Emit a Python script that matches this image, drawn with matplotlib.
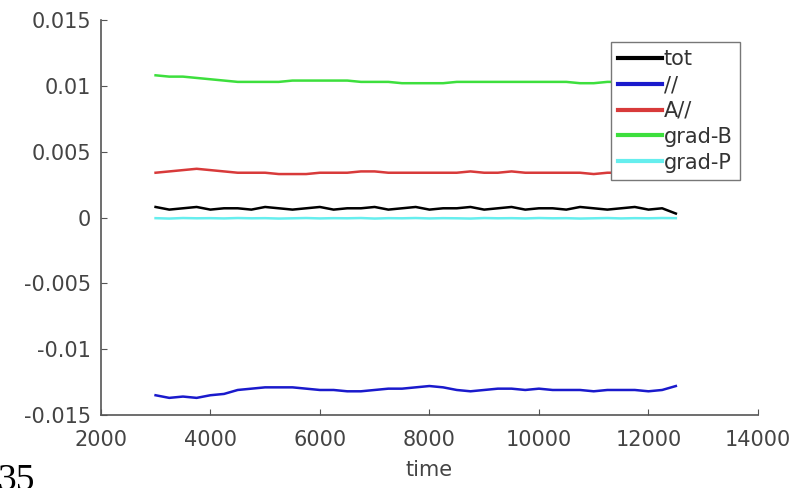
import numpy as np
import matplotlib.pyplot as plt

# time axis (samples every 250)
time = np.arange(3000, 12501, 250)

tot = [0.0008, 0.0006, 0.0007, 0.0008, 0.0006, 0.0007, 0.0007, 0.0006, 0.0008, 0.0007,
       0.0006, 0.0007, 0.0008, 0.0006, 0.0007, 0.0007, 0.0008, 0.0006, 0.0007, 0.0008,
       0.0006, 0.0007, 0.0007, 0.0008, 0.0006, 0.0007, 0.0008, 0.0006, 0.0007, 0.0007,
       0.0006, 0.0008, 0.0007, 0.0006, 0.0007, 0.0008, 0.0006, 0.0007, 0.0003]
par = [-0.0135, -0.0137, -0.0136, -0.0137, -0.0135, -0.0134, -0.0131, -0.0130, -0.0129, -0.0129,
       -0.0129, -0.0130, -0.0131, -0.0131, -0.0132, -0.0132, -0.0131, -0.0130, -0.0130, -0.0129,
       -0.0128, -0.0129, -0.0131, -0.0132, -0.0131, -0.0130, -0.0130, -0.0131, -0.0130, -0.0131,
       -0.0131, -0.0131, -0.0132, -0.0131, -0.0131, -0.0131, -0.0132, -0.0131, -0.0128]
a_par = [0.0034, 0.0035, 0.0036, 0.0037, 0.0036, 0.0035, 0.0034, 0.0034, 0.0034, 0.0033,
         0.0033, 0.0033, 0.0034, 0.0034, 0.0034, 0.0035, 0.0035, 0.0034, 0.0034, 0.0034,
         0.0034, 0.0034, 0.0034, 0.0035, 0.0034, 0.0034, 0.0035, 0.0034, 0.0034, 0.0034,
         0.0034, 0.0034, 0.0033, 0.0034, 0.0034, 0.0033, 0.0034, 0.0034, 0.0034]
grad_b = [0.0108, 0.0107, 0.0107, 0.0106, 0.0105, 0.0104, 0.0103, 0.0103, 0.0103, 0.0103,
          0.0104, 0.0104, 0.0104, 0.0104, 0.0104, 0.0103, 0.0103, 0.0103, 0.0102, 0.0102,
          0.0102, 0.0102, 0.0103, 0.0103, 0.0103, 0.0103, 0.0103, 0.0103, 0.0103, 0.0103,
          0.0103, 0.0102, 0.0102, 0.0103, 0.0103, 0.0103, 0.0103, 0.0103, 0.0103]
grad_p = [-0.00005, -0.00008, -0.00004, -0.00006, -0.00005, -0.00007, -0.00004, -0.00006, -0.00005, -0.00008,
          -0.00006, -0.00004, -0.00007, -0.00005, -0.00006, -0.00004, -0.00008, -0.00005, -0.00006, -0.00004,
          -0.00007, -0.00005, -0.00006, -0.00008, -0.00004, -0.00006, -0.00005, -0.00007, -0.00004, -0.00006,
          -0.00005, -0.00008, -0.00006, -0.00004, -0.00007, -0.00005, -0.00006, -0.00004, -0.00005]

labels = ['tot', '//', 'A//', 'grad-B', 'grad-P']
colors = ['#000000', '#1a1acc', '#d83a3a', '#3ddf3d', '#66eeee']

fig = plt.figure(figsize=(8, 4.88), dpi=100)
ax = fig.add_axes([0.126, 0.1496, 0.8215, 0.8094])

for y, lab, c in zip([tot, par, a_par, grad_b, grad_p], labels, colors):
    ax.plot(time, y, color=c, lw=1.8, label=lab)

ax.set_xlim(2000, 14000)
ax.set_ylim(-0.015, 0.015)
ax.set_xticks(np.arange(2000, 14001, 2000))
ax.set_yticks([-0.015, -0.01, -0.005, 0, 0.005, 0.01, 0.015])
ax.set_yticklabels(['-0.015', '-0.01', '-0.005', '0', '0.005', '0.01', '0.015'])
ax.spines['top'].set_visible(False)
ax.spines['right'].set_visible(False)
for s in ['left', 'bottom']:
    ax.spines[s].set_color('#555555')
    ax.spines[s].set_linewidth(1.2)
ax.tick_params(direction='in', length=4, labelsize=15, colors='#555555', labelcolor='#444444')
ax.tick_params(axis='y', pad=7)
ax.tick_params(axis='x', pad=11)
ax.set_xlabel('time', fontsize=15, color='#444444', labelpad=7)

leg = ax.legend(loc='upper right', bbox_to_anchor=(740 / 800, 1 - 42 / 488),
                bbox_transform=fig.transFigure, fontsize=15, handlelength=2.1,
                labelspacing=0.28, handletextpad=0.1, borderpad=0.35,
                borderaxespad=0, fancybox=False, framealpha=1, edgecolor='#777777')
for line in leg.get_lines():
    line.set_linewidth(3)
for t in leg.get_texts():
    t.set_color('#333333')

fig.text(-0.004, -0.004, '35', fontsize=27, family='Liberation Serif', color='black')

fig.savefig('out.png', dpi=100)
